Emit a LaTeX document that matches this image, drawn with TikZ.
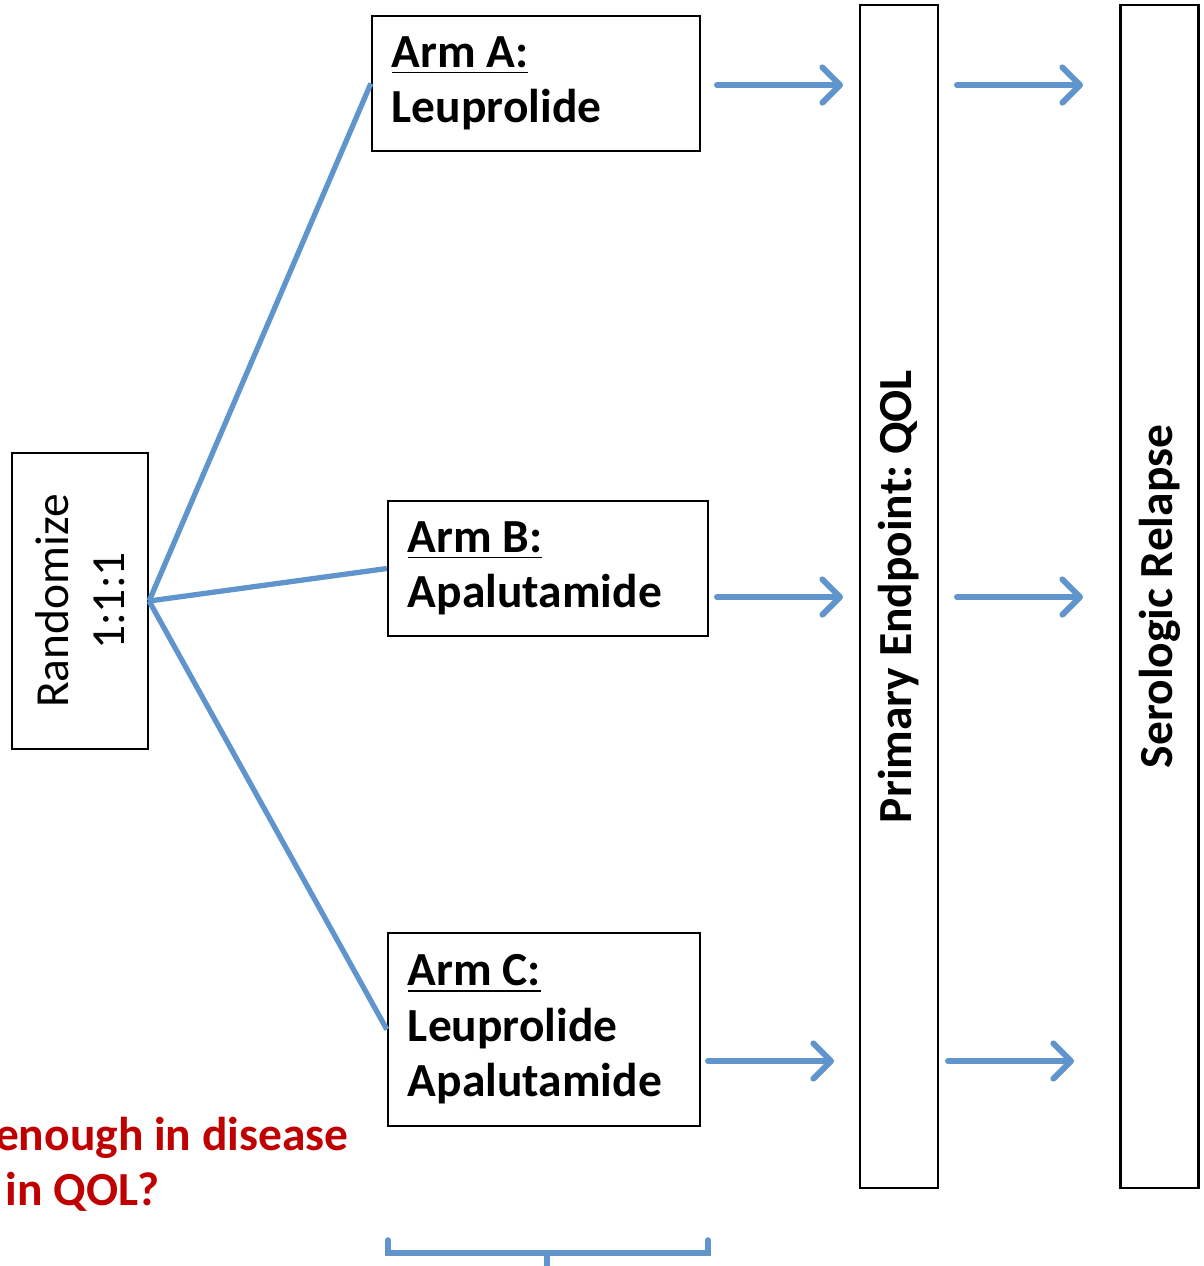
\documentclass[tikz,border=0pt]{standalone}
\usepackage{fontspec}
\setmainfont{Carlito}
\usetikzlibrary{arrows.meta}
\definecolor{armblue}{HTML}{5F95CC}
\definecolor{questionred}{HTML}{C00000}
\newcommand{\boxfont}{\fontsize{13.5}{15.8}\selectfont\frenchspacing}
\newcommand{\armhead}[1]{\underline{Arm\hspace{0.22em}#1:}}

\begin{document}
\begin{tikzpicture}[
  x=0.01cm,
  y=-0.01cm,
  every node/.style={font=\boxfont, black},
  box/.style={draw, line width=0.6pt, inner sep=0pt},
  armbox/.style={box, align=left, inner xsep=0.2cm, font=\boxfont\bfseries},
  column/.style={box, rotate=90, minimum width=11.83cm, minimum height=0.78cm,
    font=\boxfont\bfseries},
  branch/.style={armblue, line width=1.5pt},
  flow/.style={armblue, line width=1.7pt, line cap=round,
    -{Straight Barb[length=5pt, width=10pt, round]}},
  brace/.style={armblue, line width=1.6pt, line cap=round},
  question/.style={font=\boxfont\bfseries, questionred, inner sep=0pt}
]
  \useasboundingbox (0,0) rectangle (1204,1266);

  % ================= randomisation and the three arms ===================
  \node[box, rotate=90, align=center, minimum width=2.96cm,
        minimum height=1.36cm] (rand) at (80,601) {Randomize\\1:1:1};

  \node[armbox, text width=2.88cm, minimum height=1.35cm] (armA) at (536,83.5)
    {\armhead{A}\\Leuprolide};
  \node[armbox, text width=2.80cm, minimum height=1.35cm] (armB) at (548,568.5)
    {\armhead{B}\\Apalutamide};
  \node[armbox, text width=2.72cm, minimum height=1.93cm] (armC) at (544,1029.5)
    {\armhead{C}\\Leuprolide\\Apalutamide};

  % the box is turned, so its south side faces the arms
  \foreach \arm in {armA, armB, armC}
    \draw[branch] (rand.south) -- (\arm.west);

  % ================= the two end point columns ==========================
  \node[column] (endpoint) at (899,596.5) {Primary Endpoint: QOL};
  \node[column] (relapse) at (1159.5,596.5) {Serologic Relapse};

  % arrows run level with each arm, they do not touch the boxes
  \foreach \y/\xa in {85/717, 597/717, 1061/708} {
    \coordinate (from) at (\xa,\y);
    \coordinate (to) at (\xa+126,\y);
    \draw[flow] (from) -- (to);
    \coordinate (from) at (\xa+240,\y);
    \coordinate (to) at (\xa+366,\y);
    \draw[flow] (from) -- (to);
  }

  % ================= the question, cut at the left edge =================
  \node[question, anchor=base east] (q1) at (349,1150) {enough in disease};
  \node[question, anchor=base east] (q2) at (160,1205) {in QOL?};

  % ================= the bracket under the arms =========================
  \coordinate (brace-l) at (388,1240);
  \coordinate (brace-r) at (708,1240);
  \coordinate (brace-m) at (547,1253);
  \draw[brace] (brace-l) |- (brace-r |- brace-m) -- (brace-r);
  \draw[brace] (brace-m) -- ++(0,20);
\end{tikzpicture}
\end{document}
